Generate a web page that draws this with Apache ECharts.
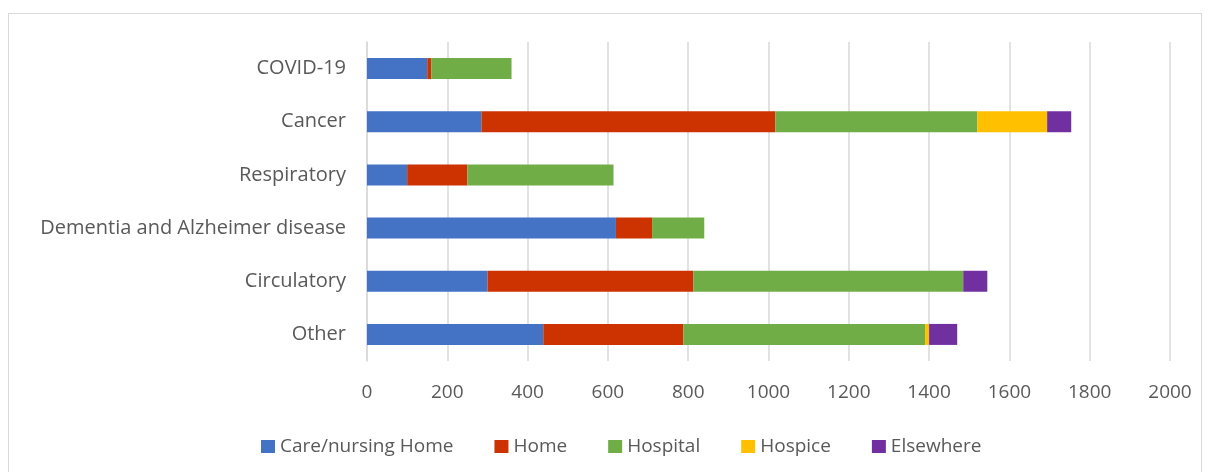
<!DOCTYPE html>
<html>
<head>
<meta charset="utf-8">
<script src="https://cdn.jsdelivr.net/npm/echarts@6/dist/echarts.min.js"></script>
<style>
  html, body { margin: 0; padding: 0; background: #fff; }
  #frame { position: absolute; left: 8px; top: 13px; width: 1194px; height: 470px; border: 1px solid #d9d9d9; box-sizing: border-box; }
  #chart { position: absolute; left: 0; top: 0; width: 1211px; height: 472px; }
</style>
</head>
<body>
<div id="frame"></div>
<div id="chart"></div>
<script>
// Place of death by underlying cause (bottom-to-top order on the category axis)
const causes = ['Other', 'Circulatory', 'Dementia and Alzheimer disease', 'Respiratory', 'Cancer', 'COVID-19'];
const careHome  = [439, 300, 620, 100, 285, 150];
const home      = [349, 513,  90, 150, 732,  10];
const hospital  = [602, 672, 130, 364, 503, 200];
const hospice   = [ 10,   0,   0,   0, 174,   0];
const elsewhere = [ 70,  60,   0,   0,  60,   0];
const xTicks = [0, 200, 400, 600, 800, 1000, 1200, 1400, 1600, 1800, 2000];

const FONT = 'Open Sans';
const TEXT = '#595959';

const seriesDefs = [
  { name: 'Care/nursing Home', data: careHome,  color: '#4472c4' },
  { name: 'Home',              data: home,      color: '#cc3300' },
  { name: 'Hospital',          data: hospital,  color: '#70ad47' },
  { name: 'Hospice',           data: hospice,   color: '#ffc000' },
  { name: 'Elsewhere',         data: elsewhere, color: '#7030a0' }
];

const chart = echarts.init(document.getElementById('chart'), null, { renderer: 'canvas' });
chart.setOption({
  animation: false,
  textStyle: { fontFamily: FONT },
  grid: { left: 367, right: 41, top: 42, bottom: 111, containLabel: false },
  xAxis: {
    type: 'value',
    min: xTicks[0],
    max: xTicks[xTicks.length - 1],
    interval: xTicks[1] - xTicks[0],
    axisLine: { show: false },
    axisTick: { show: false },
    splitLine: { show: true, lineStyle: { color: '#d9d9d9', width: 1.5 } },
    axisLabel: { color: TEXT, fontSize: 19, fontFamily: FONT, margin: 22, formatter: v => String(v) }
  },
  yAxis: {
    type: 'category',
    data: causes,
    axisLine: { show: true, lineStyle: { color: '#d9d9d9', width: 1.5 } },
    axisTick: { show: false },
    axisLabel: { color: TEXT, fontSize: 20, fontFamily: FONT, margin: 21 }
  },
  legend: {
    top: 432,
    left: 256,
    itemWidth: 14,
    itemHeight: 13,
    itemGap: 41,
    icon: 'rect',
    textStyle: { color: TEXT, fontSize: 19, fontFamily: FONT },
    data: seriesDefs.map(s => s.name)
  },
  series: seriesDefs.map(s => ({
    name: s.name,
    type: 'bar',
    stack: 'total',
    barWidth: 21,
    itemStyle: { color: s.color },
    data: s.data
  }))
});
</script>
</body>
</html>
